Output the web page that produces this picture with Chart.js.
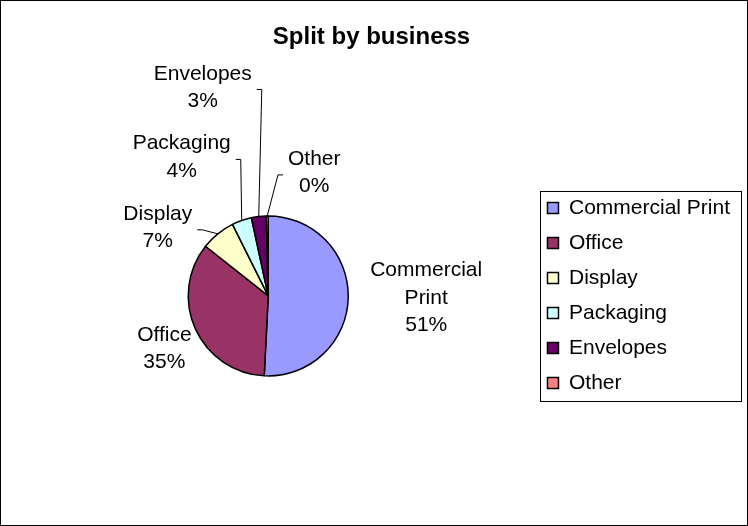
<!DOCTYPE html>
<html>
<head>
<meta charset="utf-8">
<script src="https://cdn.jsdelivr.net/npm/chart.js@4.4.0/dist/chart.umd.min.js"></script>
<style>
  body { margin: 0; background: #fff; }
  #wrap { width: 748px; height: 526px; position: relative; }
</style>
</head>
<body>
<div id="wrap"><canvas id="myChart"></canvas></div>
<script>
// Data
const categories = ['Commercial Print', 'Office', 'Display', 'Packaging', 'Envelopes', 'Other'];
const shares = [51, 35, 7, 4, 3, 0.4];
const sliceColors = ['#9999FF', '#993366', '#FFFFCC', '#CCFFFF', '#660066', '#FF8080'];

// label placement relative to the slice edge, and which labels get a leader line
const labelShift = [[78, 0], [-31, 20], [-60, -6], [-60, -63], [-56, -129], [47, -43]];
const hasLeader = [false, false, true, true, true, true];

const FONT = '"Liberation Sans", Arial, sans-serif';

// white page + thin frame round the whole chart
const framePlugin = {
    id: 'frame',
    beforeDraw(chart) {
        const ctx = chart.ctx;
        ctx.save();
        ctx.fillStyle = '#fff';
        ctx.fillRect(0, 0, chart.width, chart.height);
        ctx.strokeStyle = '#000';
        ctx.lineWidth = 1;
        ctx.strokeRect(0.5, 0.5, chart.width - 1, chart.height - 1);
        ctx.restore();
    }
};

// box round the legend, like Excel does
const legendBoxPlugin = {
    id: 'legendBox',
    afterDraw(chart) {
        const boxes = chart.legend.legendHitBoxes;
        if (!boxes || !boxes.length) return;
        const first = boxes[0], last = boxes[boxes.length - 1];
        let right = 0;
        boxes.forEach(b => { right = Math.max(right, b.left + b.width); });
        const ctx = chart.ctx;
        ctx.save();
        ctx.strokeStyle = '#000';
        ctx.lineWidth = 1;
        const x0 = Math.round(first.left - 7) + 0.5;
        const y0 = Math.round(first.top - 7) + 0.5;
        const x1 = Math.round(right + 11) + 0.5;
        const y1 = Math.round(last.top + last.height + 7) + 0.5;
        ctx.strokeRect(x0, y0, x1 - x0, y1 - y0);
        ctx.restore();
    }
};

// category + percent labels outside the pie
const sliceLabelPlugin = {
    id: 'sliceLabels',
    afterDatasetsDraw(chart) {
        const ctx = chart.ctx;
        const arcs = chart.getDatasetMeta(0).data;
        const total = shares.reduce((a, b) => a + b, 0);
        ctx.save();
        ctx.font = '21px ' + FONT;
        ctx.fillStyle = '#000';
        ctx.textAlign = 'center';
        ctx.textBaseline = 'middle';
        const lineH = 27.5;
        arcs.forEach((arc, i) => {
            const mid = (arc.startAngle + arc.endAngle) / 2;
            const ax = arc.x + Math.cos(mid) * arc.outerRadius;
            const ay = arc.y + Math.sin(mid) * arc.outerRadius;
            const cx = ax + labelShift[i][0];
            const cy = ay + labelShift[i][1];
            const lines = categories[i].split(' ');
            lines.push(Math.round(shares[i] / total * 100) + '%');
            const top = cy - (lines.length - 1) * lineH / 2;
            let w = 0;
            lines.forEach((t, k) => {
                ctx.fillText(t, cx, top + k * lineH);
                w = Math.max(w, ctx.measureText(t).width);
            });
            if (hasLeader[i]) {
                const dir = cx < ax ? 1 : -1;
                const endX = cx + dir * (w / 2 + 5);
                const elbowX = endX + dir * 5;
                const ly = cy + 2;
                ctx.beginPath();
                ctx.strokeStyle = '#000';
                ctx.lineWidth = 1;
                ctx.moveTo(ax, ay);
                ctx.lineTo(elbowX, ly);
                ctx.lineTo(endX, ly);
                ctx.stroke();
            }
        });
        ctx.restore();
    }
};

const ctx = document.getElementById('myChart').getContext('2d');
new Chart(ctx, {
    type: 'pie',
    data: {
        labels: categories,
        datasets: [{
            data: shares,
            backgroundColor: sliceColors,
            borderColor: '#000',
            borderWidth: 1.5
        }]
    },
    options: {
        responsive: true,
        maintainAspectRatio: false,
        animation: false,
        radius: 80,
        layout: { padding: { left: 3, right: 8, top: 0, bottom: 0 } },
        plugins: {
            title: {
                display: true,
                text: 'Split by business',
                color: '#000',
                font: { family: FONT, size: 24, weight: 'bold' },
                padding: { top: 23, bottom: 14 }
            },
            legend: {
                position: 'right',
                title: {
                    display: true,
                    text: ' ',
                    font: { size: 1 },
                    padding: { top: 64, bottom: 0 }
                },
                labels: {
                    color: '#000',
                    font: { family: FONT, size: 21 },
                    boxWidth: 11,
                    boxHeight: 11,
                    padding: 14
                }
            },
            tooltip: { enabled: false }
        }
    },
    plugins: [framePlugin, legendBoxPlugin, sliceLabelPlugin]
});
</script>
</body>
</html>
